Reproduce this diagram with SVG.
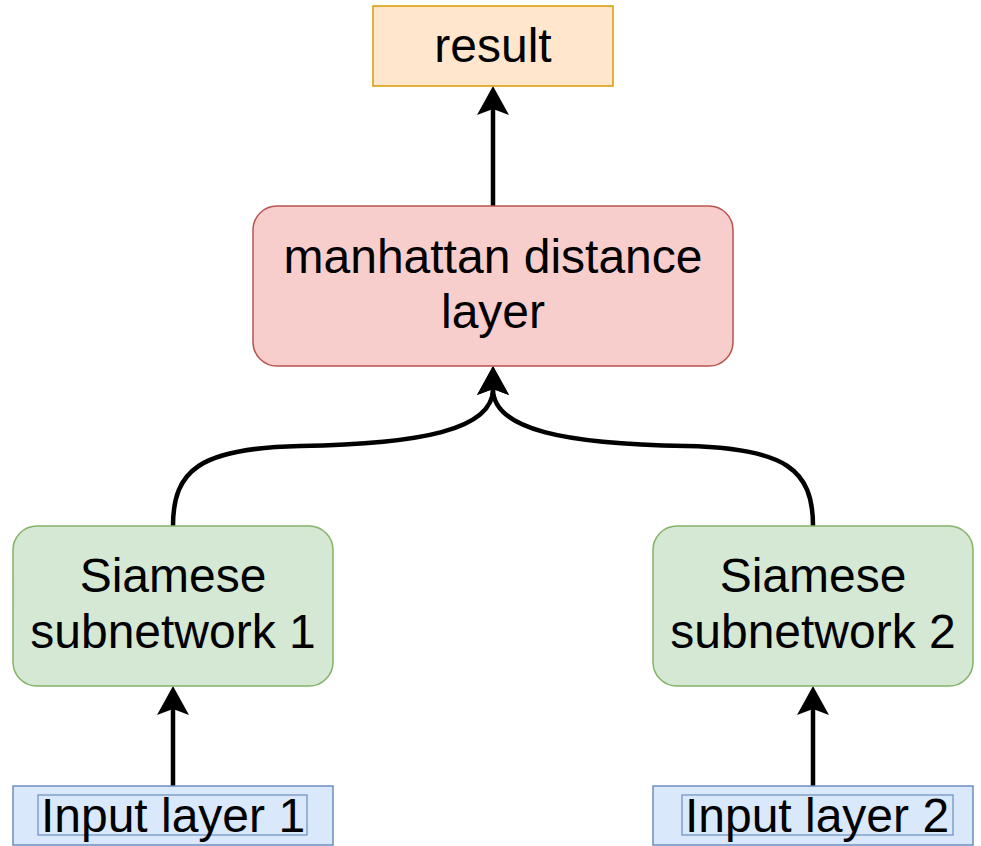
<svg xmlns="http://www.w3.org/2000/svg" width="981" height="846" viewBox="0 0 981 846">
<style>
text{font-family:"Liberation Sans",Arial,sans-serif;font-size:48px;fill:#000;text-anchor:middle}
.edge{fill:none;stroke:#000;stroke-width:4.5}
.orange{fill:#ffe6cc;stroke:#d79b00;stroke-width:1.5}
.red{fill:#f8cecc;stroke:#b85450;stroke-width:1.5}
.green{fill:#d5e8d4;stroke:#82b366;stroke-width:1.5}
.blue{fill:#dae8fc;stroke:#6c8ebf;stroke-width:1.5}
.inner{fill:none;stroke:#6c8ebf;stroke-width:1.2}
</style>
<defs>
<marker id="arr" markerUnits="userSpaceOnUse" viewBox="0 0 29 32" markerWidth="29" markerHeight="32" refX="6" refY="16" orient="auto">
<path d="M29,16 L0,0 L6,16 L0,32 Z" fill="#000"/>
</marker>
</defs>
<g id="connectors">
<path class="edge" d="M493,206 L493,109" marker-end="url(#arr)"/>
<path class="edge" d="M173,526 C173,470 200,448 300,446 C420,444 493,430 493,389" marker-end="url(#arr)"/>
<path class="edge" d="M813,526 C813,470 786,448 686,446 C566,444 493,430 493,389" marker-end="url(#arr)"/>
<path class="edge" d="M173,786 L173,709" marker-end="url(#arr)"/>
<path class="edge" d="M813,786 L813,709" marker-end="url(#arr)"/>
</g>
<g id="result">
<rect class="orange" x="373" y="6" width="240" height="80"/>
<text x="493" y="62">result</text>
</g>
<g id="manhattan">
<rect class="red" x="253" y="206" width="480" height="160" rx="24" ry="24"/>
<text x="493" y="273">manhattan distance</text>
<text x="493" y="328">layer</text>
</g>
<g id="siamese1">
<rect class="green" x="13" y="526" width="320" height="160" rx="24" ry="24"/>
<text x="173" y="592">Siamese</text>
<text x="173" y="648">subnetwork 1</text>
</g>
<g id="siamese2">
<rect class="green" x="653" y="526" width="320" height="160" rx="24" ry="24"/>
<text x="813" y="592">Siamese</text>
<text x="813" y="648">subnetwork 2</text>
</g>
<g id="input1">
<rect class="blue" x="13" y="786" width="320" height="59"/>
<rect class="inner" x="38" y="795" width="269" height="40"/>
<text x="173" y="832">Input layer 1</text>
</g>
<g id="input2">
<rect class="blue" x="653" y="786" width="320" height="59"/>
<rect class="inner" x="682" y="795" width="271" height="40"/>
<text x="817" y="832">Input layer 2</text>
</g>
</svg>
